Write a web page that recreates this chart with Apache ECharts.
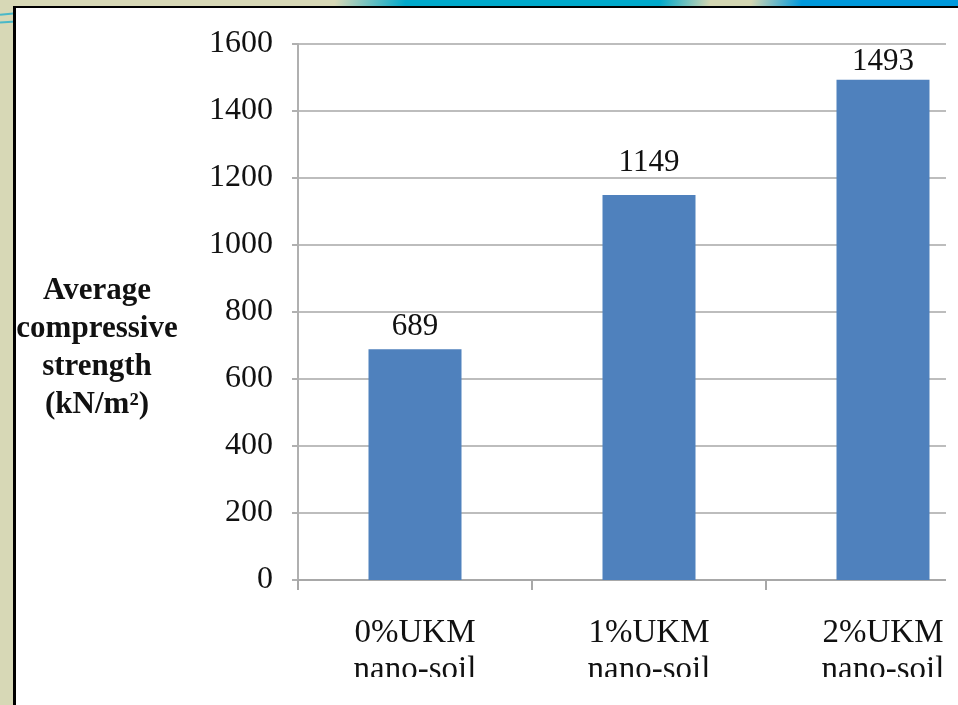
<!DOCTYPE html>
<html>
<head>
<meta charset="utf-8">
<script src="https://cdn.jsdelivr.net/npm/echarts@6/dist/echarts.min.js"></script>
<style>
  html, body { margin: 0; padding: 0; }
  body { width: 958px; height: 705px; background: #d7d8b6; position: relative; overflow: hidden; }
  #band { position: absolute; left: 0; top: 0; width: 958px; height: 7px;
    background: linear-gradient(100deg, #d7d8b6 0px, #d7d8b6 330px, #00a9cb 400px, #00a9cb 650px,
      #d3d6b2 700px, #d3d6b2 740px, #0099dc 790px, #0099dc 958px); }
  #swirl1, #swirl2 { position: absolute; left: 0; width: 16px; height: 2px; background: #49b8c8; }
  #swirl1 { top: 13px; transform: rotate(-6deg); }
  #swirl2 { top: 21px; transform: rotate(-4deg); }
  #panel { position: absolute; left: 13px; top: 6px; width: 960px; height: 710px; background: #ffffff;
    border-left: 3px solid #000; border-top: 2px solid #000; }
  #chart { position: absolute; left: 16px; top: 8px; width: 930px; height: 669px; }
</style>
</head>
<body>
<div id="band"></div>
<div id="swirl1"></div>
<div id="swirl2"></div>
<div id="panel"></div>
<div id="chart"></div>
<script>
// Average compressive strength by UKM nano-soil content
const categories = ['0%UKM\nnano-soil', '1%UKM\nnano-soil', '2%UKM\nnano-soil'];
const strengthValues = [689, 1149, 1493];
const yTicks = { min: 0, max: 1600, interval: 200 };
const yAxisTitle = 'Average\ncompressive\nstrength\n(kN/m\u00b2)';

// gap between each bar top and its value label
const labelGaps = [7, 17, 2];

const serif = '"Liberation Serif", "DejaVu Serif", serif';
const chart = echarts.init(document.getElementById('chart'), null, { renderer: 'canvas' });

const barData = strengthValues.map((v, i) => ({
  value: v,
  label: { distance: labelGaps[i] }
}));

chart.setOption({
  backgroundColor: 'transparent',
  animation: false,
  grid: { left: 282, top: 36, width: 702, height: 536, containLabel: false, outerBoundsMode: 'none' },
  xAxis: {
    type: 'category',
    data: categories,
    axisLine: { lineStyle: { color: '#a8a8a8', width: 2 } },
    axisTick: { show: true, length: 10, lineStyle: { color: '#a8a8a8', width: 2 } },
    axisLabel: { margin: 35, fontFamily: serif, fontSize: 33, lineHeight: 37, color: '#111' }
  },
  yAxis: {
    type: 'value',
    min: yTicks.min,
    max: yTicks.max,
    interval: yTicks.interval,
    axisLine: { show: true, lineStyle: { color: '#b0b0b0', width: 2 } },
    axisTick: { show: true, length: 6, lineStyle: { color: '#b0b0b0', width: 2 } },
    axisLabel: { margin: 25, fontFamily: serif, fontSize: 32, color: '#111',
      formatter: (v) => String(v) },
    splitLine: { lineStyle: { color: '#bdbdbd', width: 2 } }
  },
  graphic: [{
    type: 'text',
    x: 81,
    y: 340,
    style: {
      text: yAxisTitle,
      align: 'center',
      verticalAlign: 'middle',
      font: 'bold 31px ' + serif,
      lineHeight: 38,
      fill: '#111'
    }
  }],
  series: [{
    type: 'bar',
    data: barData,
    barWidth: 93,
    itemStyle: { color: '#4f81bd' },
    label: {
      show: true,
      position: 'top',
      fontFamily: serif,
      fontSize: 31,
      color: '#111'
    }
  }]
});
</script>
</body>
</html>
